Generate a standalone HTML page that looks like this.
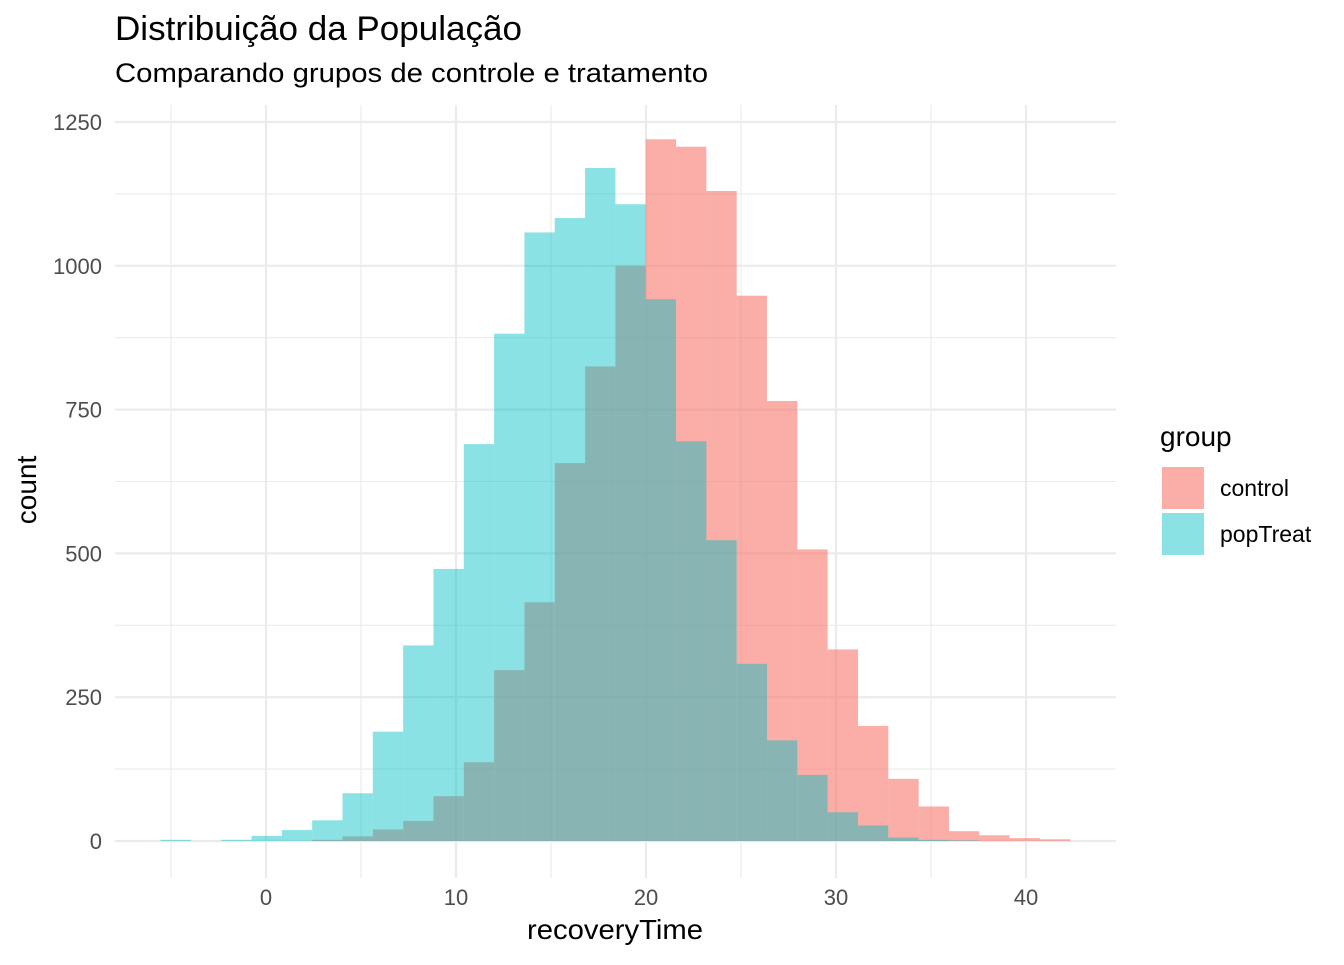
<!DOCTYPE html>
<html><head><meta charset="utf-8"><style>
body{margin:0;background:#fff;font-family:"Liberation Sans",Arial,sans-serif}
</style></head><body>
<svg id="chart" width="1344" height="960" xmlns="http://www.w3.org/2000/svg">
<text x="115" y="40" font-size="34" textLength="407" lengthAdjust="spacingAndGlyphs" fill="#000">Distribuição da População</text>
<text x="115" y="82" font-size="27" textLength="593" lengthAdjust="spacingAndGlyphs" fill="#000">Comparando grupos de controle e tratamento</text>
<g id="grid"></g><g id="bars"></g><g id="axes"></g>
<text x="615" y="939" font-size="28" text-anchor="middle" textLength="176" lengthAdjust="spacingAndGlyphs">recoveryTime</text>
<text transform="translate(36,490) rotate(-90)" font-size="28" text-anchor="middle">count</text>
<g>
<text x="1160" y="446" font-size="28">group</text>
<rect x="1162" y="467" width="42" height="42" fill="#F8766D" fill-opacity="0.6"/>
<rect x="1162" y="513" width="42" height="42" fill="#00BFC4" fill-opacity="0.46"/>
<text x="1220" y="496" font-size="23">control</text>
<text x="1220" y="542" font-size="23">popTreat</text>
</g>
</svg>
<script>
const binStart = -5.55;
const binWidth = 1.596;
const controlCounts = [0,0,0,0,0,2,8,20,35,78,137,297,415,657,825,1000,1220,1207,1130,948,765,507,333,200,108,60,17,10,5,3];
const treatCounts = [2,0,2,9,19,36,83,190,340,473,690,882,1058,1083,1170,1107,942,695,523,308,175,115,50,27,6,2,1,0,0,0];
const xTicks = [0,10,20,30,40];
const yTicks = [0,250,500,750,1000,1250];
const NS="http://www.w3.org/2000/svg";
const X=v=>266+19*v, Y=v=>841-v*0.5752;
const L=115,R=1116,T=105,B=878;
function mk(tag,attrs,parent){const e=document.createElementNS(NS,tag);for(const k in attrs)e.setAttribute(k,attrs[k]);document.getElementById(parent).appendChild(e);return e;}
for(let v=-5;v<=42;v+=5){const major=v%10===0;
 const e=mk('line',{x1:X(v),x2:X(v),y1:T,y2:B,stroke:'#ebebeb','stroke-width':major?2.2:1.1},'grid');
 
 }
for(let v=0;v<=1250;v+=125){const major=v%250===0;
 const e=mk('line',{x1:L,x2:R,y1:Y(v),y2:Y(v),stroke:'#ebebeb','stroke-width':major?2.2:1.1},'grid');
 
 }
function drawSeries(arr,color,op,name){arr.forEach((c,i)=>{if(c<=0)return;
 const x0=X(binStart+i*binWidth),x1=X(binStart+(i+1)*binWidth);
 const e=mk('rect',{x:x0,y:Y(c),width:x1-x0,height:Y(0)-Y(c),fill:color,'fill-opacity':op},'bars');
 
 });}
drawSeries(controlCounts,'#F8766D',0.6,'control');
drawSeries(treatCounts,'#00BFC4',0.46,'poptreat');
xTicks.forEach(v=>{const t=mk('text',{x:X(v),y:905,'font-size':22,fill:'#4d4d4d','text-anchor':'middle'},'axes');t.textContent=v;
 
 });
yTicks.forEach(v=>{const t=mk('text',{x:102,y:Y(v)+8,'font-size':22,fill:'#4d4d4d','text-anchor':'end'},'axes');t.textContent=v;
 
 });
</script>
</body></html>
